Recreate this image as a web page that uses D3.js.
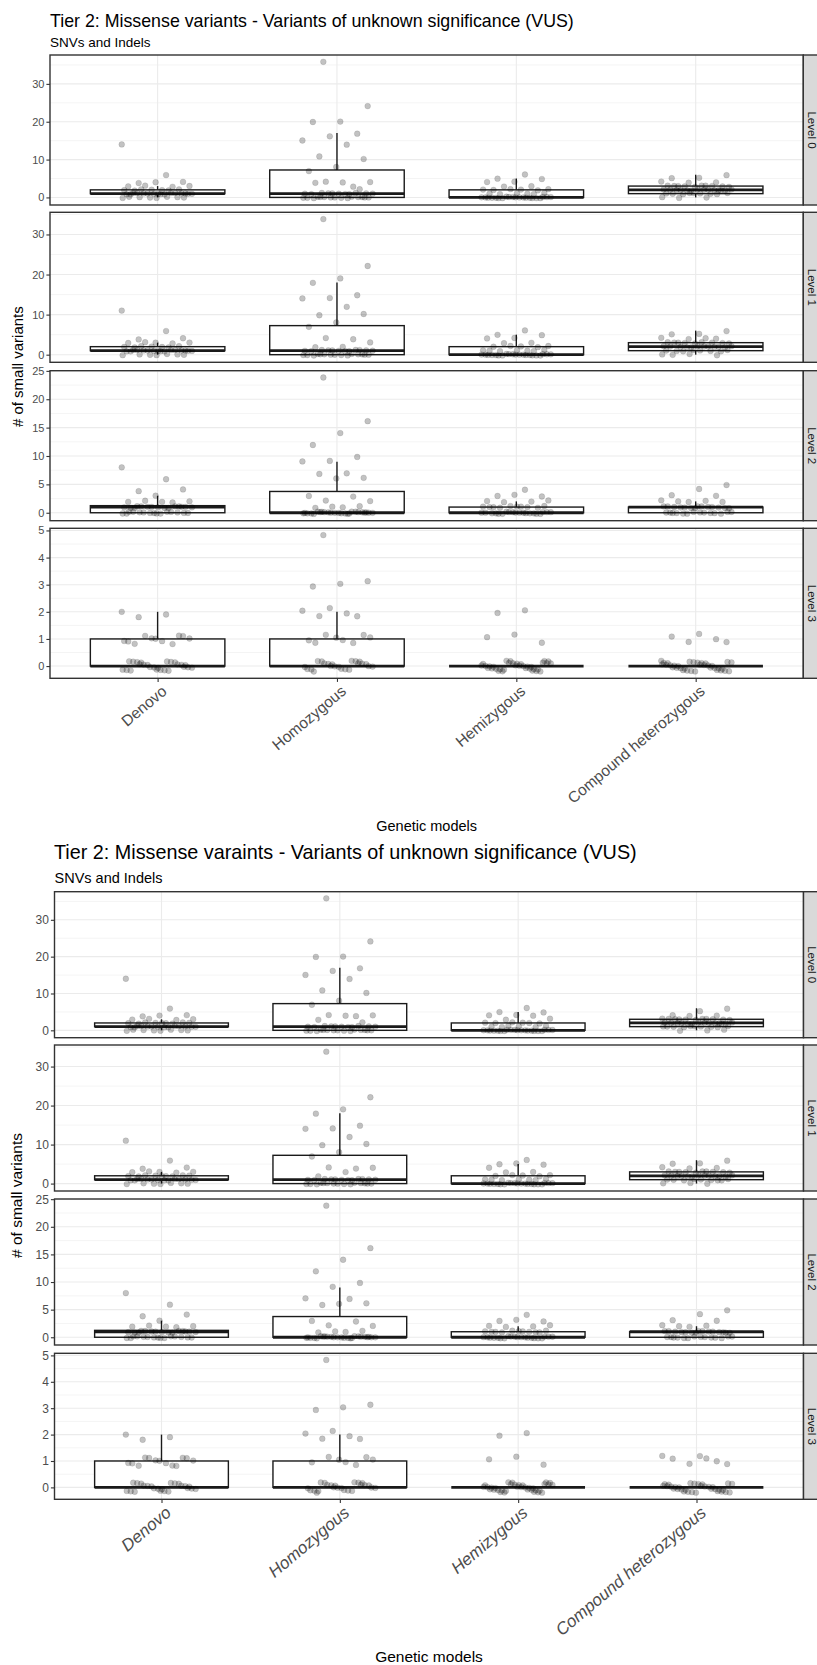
<!DOCTYPE html>
<html><head><meta charset="utf-8">
<script src="https://cdn.jsdelivr.net/npm/d3@7"></script>
<style>body{margin:0;background:#fff} svg{display:block;font-family:"Liberation Sans",Arial,sans-serif}</style>
</head><body>
<svg id="c" width="817" height="1665"></svg>
<script>
// ---------- data ----------
const categories = ["Denovo", "Homozygous", "Hemizygous", "Compound heterozygous"];
const levels = ["Level 0", "Level 1", "Level 2", "Level 3"];
const subtitle = "SNVs and Indels";
const xTitle = "Genetic models";
const yTitle = "# of small variants";
const title1 = "Tier 2: Missense variants - Variants of unknown significance (VUS)";
const title2 = "Tier 2: Missense varaints - Variants of unknown significance (VUS)";

// chart 1 — per level: [Denovo, Homozygous, Hemizygous, Compound heterozygous]
const c1_level0 = [
  [14,6,4,4,4,3,3,3,3,2,2,2,2,2,2,2,1,1,1,1,1,1,1,1,1,1,1,1,1,1,1,1,0,0,0,0,0,0,0,0],
  [36,24,20,20,17,16,15,14,11,10,8,7,3,4,4,4,4,2,1,1,1,1,1,1,1,1,1,1,1,0,0,0,0,0,0,0,0,0,0,0,0,0,0,0],
  [6,5,5,4,4,3,3,2,2,2,2,2,2,1,1,1,1,1,1,0,0,0,0,0,0,0,0,0,0,0,0,0,0,0,0,0,0,0,0,0],
  [6,5,5,4,4,4,3,3,3,3,3,3,3,3,3,3,2,2,2,2,2,2,2,2,2,2,2,2,2,2,1,1,1,1,1,1,1,1,1,0,0,0]
];
const c1_level1 = [
  [11,6,4,4,3,3,3,3,3,2,2,2,2,2,2,2,1,1,1,1,1,1,1,1,1,1,1,1,1,1,1,1,0,0,0,0,0,0,0],
  [34,22,19,18,15,14,14,12,10,10,8,7,4,4,3,2,2,1,1,1,1,1,1,1,1,1,1,1,1,0,0,0,0,0,0,0,0,0,0,0,0,0,0,0],
  [6,5,5,4,4,3,3,2,2,2,2,2,1,1,1,1,1,1,1,0,0,0,0,0,0,0,0,0,0,0,0,0,0,0,0,0,0,0,0,0],
  [6,5,5,4,4,4,4,3,3,3,3,3,3,3,3,3,2,2,2,2,2,2,2,2,2,2,2,2,1,1,1,1,1,1,1,1,0,0,0,0]
];
const c1_level2 = [
  [8,6,4,4,3,2,2,2,2,2,1,1,1,1,1,1,1,1,1,1,1,1,1,1,1,0,0,0,0,0,0,0,0,0,0,0,0,0,0,0],
  [24,16,14,12,10,9,9,7,7,6,6,3,3,2,2,1,1,1,1,0,0,0,0,0,0,0,0,0,0,0,0,0,0,0,0,0,0,0,0,0,0,0,0,0],
  [4,3,3,3,2,2,2,2,1,1,1,1,1,1,1,1,1,1,0,0,0,0,0,0,0,0,0,0,0,0,0,0,0,0,0,0,0,0],
  [5,4,3,3,2,2,2,2,2,1,1,1,1,1,1,1,1,1,1,1,1,1,1,0,0,0,0,0,0,0,0,0,0,0,0,0,0]
];
const c1_level3 = [
  [2,2,2,1,1,1,1,1,1,1,1,1,1,1,0,0,0,0,0,0,0,0,0,0,0,0,0,0,0,0,0,0,0,0,0,0,0,0,0,0],
  [5,3,3,3,2,2,2,2,2,1,1,1,1,1,1,1,1,0,0,0,0,0,0,0,0,0,0,0,0,0,0,0,0,0,0,0,0,0,0,0],
  [2,2,1,1,1,0,0,0,0,0,0,0,0,0,0,0,0,0,0,0,0,0,0,0,0,0,0,0,0,0,0,0,0,0,0,0,0,0,0,0],
  [1,1,1,1,1,0,0,0,0,0,0,0,0,0,0,0,0,0,0,0,0,0,0,0,0,0,0,0,0,0,0,0,0,0,0,0,0,0,0,0]
];

// chart 2
const c2_level0 = [
  [14,6,4,4,4,3,3,3,3,2,2,2,2,2,2,2,2,2,1,1,1,1,1,1,1,1,1,1,1,1,1,1,0,0,0,0,0,0,0,0],
  [36,24,20,20,17,16,15,14,11,10,8,7,4,4,4,4,3,2,1,1,1,1,1,1,1,1,1,1,1,0,0,0,0,0,0,0,0,0,0,0,0,0,0,0],
  [6,5,5,4,4,4,3,3,2,2,2,2,2,2,1,1,1,1,1,1,0,0,0,0,0,0,0,0,0,0,0,0,0,0,0,0,0,0,0,0,0],
  [6,5,4,4,4,3,3,3,3,3,3,3,3,3,3,3,2,2,2,2,2,2,2,2,2,2,2,2,2,2,1,1,1,1,1,1,1,1,1,1,0,0,0]
];
const c2_level1 = [
  [11,6,4,4,3,3,3,3,3,2,2,2,2,2,2,2,2,2,1,1,1,1,1,1,1,1,1,1,1,1,1,1,0,0,0,0,0,0,0],
  [34,22,19,18,15,14,14,12,10,10,8,7,4,4,4,3,2,1,1,1,1,1,1,1,1,1,1,1,1,0,0,0,0,0,0,0,0,0,0,0,0,0,0,0],
  [6,5,5,5,4,3,3,2,2,2,2,2,1,1,1,1,1,1,1,0,0,0,0,0,0,0,0,0,0,0,0,0,0,0,0,0,0,0,0,0],
  [6,5,5,4,4,4,3,3,3,3,3,3,3,3,3,3,2,2,2,2,2,2,2,2,2,2,2,2,2,1,1,1,1,1,1,1,1,1,0,0,0]
];
const c2_level2 = [
  [8,6,4,4,3,2,2,2,2,2,1,1,1,1,1,1,1,1,1,1,1,1,1,1,1,0,0,0,0,0,0,0,0,0,0,0,0,0,0,0],
  [24,16,14,12,10,9,7,7,6,6,6,3,3,2,2,1,1,1,1,0,0,0,0,0,0,0,0,0,0,0,0,0,0,0,0,0,0,0,0,0,0,0,0,0],
  [4,3,3,3,2,2,2,2,1,1,1,1,1,1,1,1,1,1,1,0,0,0,0,0,0,0,0,0,0,0,0,0,0,0,0,0,0,0,0,0],
  [5,4,3,3,2,2,2,2,1,1,1,1,1,1,1,1,1,1,1,1,1,1,1,0,0,0,0,0,0,0,0,0,0,0,0,0,0]
];
const c2_level3 = [
  [2,2,2,1,1,1,1,1,1,1,1,1,1,1,1,1,0,0,0,0,0,0,0,0,0,0,0,0,0,0,0,0,0,0,0,0,0,0,0,0],
  [5,3,3,3,2,2,2,2,2,1,1,1,1,1,1,1,0,0,0,0,0,0,0,0,0,0,0,0,0,0,0,0,0,0,0,0,0,0,0,0],
  [2,2,1,1,1,0,0,0,0,0,0,0,0,0,0,0,0,0,0,0,0,0,0,0,0,0,0,0,0,0,0,0,0,0,0,0,0,0,0,0],
  [1,1,1,1,1,1,1,0,0,0,0,0,0,0,0,0,0,0,0,0,0,0,0,0,0,0,0,0,0,0,0,0,0,0,0,0,0,0,0,0]
];

// ---------- layout ----------
const cfg1 = {title: title1, titleX: 50, titleY: 26.5, titleSize: 17.8, subY: 47, subSize: 13.5,
  left: 50, right: 803.3, tops: [55, 212.3, 370.7, 528.3], panelH: 150, tickSize: 11,
  xLabSize: 15.5, italic: false, xTitleY: 831, xTitleSize: 14.5, yTitleX: 17.5, yTitleSize: 15,
  stripSize: 11.5, stripDx: 8.5};
const cfg2 = {title: title2, titleX: 54, titleY: 859.3, titleSize: 19.8, subY: 883.3, subSize: 14.5,
  left: 54.5, right: 803.5, tops: [891.7, 1045, 1199, 1353.3], panelH: 146, tickSize: 12,
  xLabSize: 17, italic: true, xTitleY: 1662, xTitleSize: 15.5, yTitleX: 16.5, yTitleSize: 15.5,
  stripSize: 11.5, stripDx: 8};
const labelAngle = -40;

const svg = d3.select("#c");

function jx(k, j) { return (((k * 0.6180339887 + j * 0.31) % 1) * 2 - 1) * 0.2; }
function jy(k, j) { return (((k * 0.7548776662 + j * 0.57 + 0.5) % 1) * 2 - 1) * 0.2; }

function drawChart(cfg, levelData) {
  const g = svg.append("g");
  g.append("text").attr("x", cfg.titleX).attr("y", cfg.titleY).attr("font-size", cfg.titleSize)
    .attr("fill", "#000").text(cfg.title);
  g.append("text").attr("x", cfg.left).attr("y", cfg.subY).attr("font-size", cfg.subSize)
    .attr("fill", "#000").text(subtitle);

  const x = d3.scalePoint().domain(categories).range([cfg.left, cfg.right]).padding(0.6);
  const step = x.step();
  const boxW = step * 0.75;

  levelData.forEach((groups, li) => {
    const top = cfg.tops[li], bottom = top + cfg.panelH;
    const pts = [];
    groups.forEach((vals, j) => vals.forEach((v, k) => {
      pts.push({cat: categories[j], v, px: jx(k, j), py: v + jy(k, j)});
    }));
    const ext = d3.extent(pts, d => d.py);
    const pad = (ext[1] - ext[0]) * 0.05;
    const y = d3.scaleLinear().domain([ext[0] - pad, ext[1] + pad]).range([bottom, top]);
    const ticks = y.ticks(5);
    const st = ticks[1] - ticks[0];
    const minor = [];
    for (let t = ticks[0] - st / 2; t <= y.domain()[1]; t += st) if (t >= y.domain()[0]) minor.push(t);

    const pg = g.append("g");
    pg.append("rect").attr("x", cfg.left).attr("y", top).attr("width", cfg.right - cfg.left)
      .attr("height", cfg.panelH).attr("fill", "#fff");
    pg.selectAll(".mi").data(minor).join("line").attr("x1", cfg.left).attr("x2", cfg.right)
      .attr("y1", d => y(d)).attr("y2", d => y(d)).attr("stroke", "#ebebeb").attr("stroke-width", 0.55);
    pg.selectAll(".ma").data(ticks).join("line").attr("x1", cfg.left).attr("x2", cfg.right)
      .attr("y1", d => y(d)).attr("y2", d => y(d)).attr("stroke", "#ebebeb").attr("stroke-width", 1.1);
    pg.selectAll(".vx").data(categories).join("line").attr("x1", d => x(d)).attr("x2", d => x(d))
      .attr("y1", top).attr("y2", bottom).attr("stroke", "#ebebeb").attr("stroke-width", 1.1);

    // boxplots
    groups.forEach((vals, j) => {
      const s = vals.slice().sort(d3.ascending);
      const q1 = d3.quantile(s, 0.25), med = d3.quantile(s, 0.5), q3 = d3.quantile(s, 0.75);
      const iqr = q3 - q1;
      const hi = d3.max(s.filter(v => v <= q3 + 1.5 * iqr));
      const lo = d3.min(s.filter(v => v >= q1 - 1.5 * iqr));
      const cx = x(categories[j]);
      const bg = pg.append("g");
      bg.append("line").attr("x1", cx).attr("x2", cx).attr("y1", y(q3)).attr("y2", y(hi))
        .attr("stroke", "#1a1a1a").attr("stroke-width", 1.4);
      bg.append("line").attr("x1", cx).attr("x2", cx).attr("y1", y(q1)).attr("y2", y(lo))
        .attr("stroke", "#1a1a1a").attr("stroke-width", 1.4);
      bg.append("rect").attr("x", cx - boxW / 2).attr("width", boxW).attr("y", y(q3))
        .attr("height", Math.max(0, y(q1) - y(q3))).attr("fill", "#fff")
        .attr("stroke", "#1a1a1a").attr("stroke-width", 1.4);
      bg.append("line").attr("x1", cx - boxW / 2).attr("x2", cx + boxW / 2).attr("y1", y(med)).attr("y2", y(med))
        .attr("stroke", "#1a1a1a").attr("stroke-width", 2.8);
    });

    // jittered points
    pg.selectAll(".pt").data(pts).join("circle")
      .attr("cx", d => x(d.cat) + d.px * step).attr("cy", d => y(d.py)).attr("r", 2.9)
      .attr("fill", "#000").attr("fill-opacity", 0.24)
      .attr("stroke", "#000").attr("stroke-opacity", 0.16).attr("stroke-width", 0.6);

    // border
    pg.append("rect").attr("x", cfg.left).attr("y", top).attr("width", cfg.right - cfg.left)
      .attr("height", cfg.panelH).attr("fill", "none").attr("stroke", "#333").attr("stroke-width", 1.4);

    // strip
    pg.append("rect").attr("x", cfg.right).attr("y", top).attr("width", 26).attr("height", cfg.panelH)
      .attr("fill", "#d9d9d9").attr("stroke", "#333").attr("stroke-width", 1.4);
    pg.append("text").attr("transform", `translate(${cfg.right + cfg.stripDx},${top + cfg.panelH / 2}) rotate(90)`)
      .attr("text-anchor", "middle").attr("dominant-baseline", "central")
      .attr("font-size", cfg.stripSize).attr("fill", "#1a1a1a").text(levels[li]);

    // y axis
    const ya = pg.append("g").attr("transform", `translate(${cfg.left},0)`)
      .call(d3.axisLeft(y).tickValues(ticks).tickSize(3.6).tickPadding(2).tickFormat(d3.format("d")));
    ya.select(".domain").remove();
    ya.selectAll("line").attr("stroke", "#333").attr("stroke-width", 1.1);
    ya.selectAll("text").attr("font-size", cfg.tickSize).attr("fill", "#4d4d4d")
      .attr("font-family", '"Liberation Sans",Arial,sans-serif');

    if (li === levelData.length - 1) {
      const xa = pg.append("g").attr("transform", `translate(0,${bottom})`)
        .call(d3.axisBottom(x).tickSize(3.6).tickFormat(""));
      xa.select(".domain").remove();
      xa.selectAll("line").attr("stroke", "#333").attr("stroke-width", 1.1);
      pg.selectAll(".xl").data(categories).join("text")
        .attr("transform", d => `translate(${x(d) + 3},${bottom + 6}) rotate(${labelAngle})`)
        .attr("text-anchor", "end").attr("dominant-baseline", "hanging")
        .attr("font-size", cfg.xLabSize).attr("fill", "#4d4d4d")
        .attr("font-style", cfg.italic ? "italic" : "normal").text(d => d);
    }
  });

  const plotBottom = cfg.tops[cfg.tops.length - 1] + cfg.panelH;
  g.append("text").attr("x", (cfg.left + cfg.right) / 2).attr("y", cfg.xTitleY)
    .attr("text-anchor", "middle").attr("font-size", cfg.xTitleSize).attr("fill", "#000").text(xTitle);
  g.append("text").attr("transform", `translate(${cfg.yTitleX},${(cfg.tops[0] + plotBottom) / 2}) rotate(-90)`)
    .attr("text-anchor", "middle").attr("dominant-baseline", "central")
    .attr("font-size", cfg.yTitleSize).attr("fill", "#000").text(yTitle);
}

drawChart(cfg1, [c1_level0, c1_level1, c1_level2, c1_level3]);
drawChart(cfg2, [c2_level0, c2_level1, c2_level2, c2_level3]);
</script>
</body></html>
